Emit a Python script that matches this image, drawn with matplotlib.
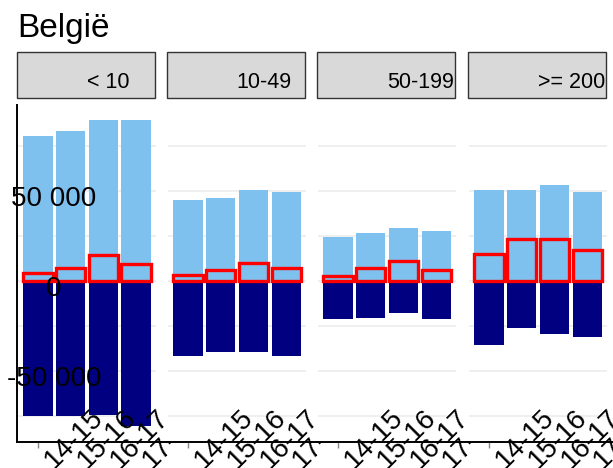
import numpy as np
import matplotlib
matplotlib.use("Agg")
import matplotlib.pyplot as plt
from matplotlib.lines import Line2D
from matplotlib.patches import Rectangle
from matplotlib.transforms import blended_transform_factory, ScaledTranslation

plt.rcParams['font.family'] = ['Liberation Sans', 'DejaVu Sans']

# data
years = ["14-15", "15-16", "16-17", "17-18"]
sizes = ["< 10", "10-49", "50-199", ">= 200"]
total_pos = [
    [80500, 83300, 89300, 89300],
    [45100, 46200, 50700, 49500],
    [24700, 26900, 29700, 28000],
    [50700, 50700, 53400, 49500],
]
red_pos = [
    [4400, 7200, 14600, 9400],
    [3500, 6300, 10300, 7200],
    [3100, 7200, 11000, 6100],
    [15300, 23600, 23600, 17300],
]
total_neg = [
    [-74900, -74900, -74000, -80500],
    [-41400, -39400, -39400, -41400],
    [-21000, -20100, -17800, -21000],
    [-35400, -26000, -29300, -30900],
]

W, H = 613, 468
fig = plt.figure(figsize=(W / 100, H / 100), dpi=100)

lo = min(min(r) for r in total_neg)
hi = max(max(r) for r in total_pos)
pad = 0.05 * (hi - lo)
ylim = (lo - pad, hi + pad)

left_px = [18, 168, 318, 469]
panel_w = 138
top_px, bot_px = 105, 441.7
pos = np.arange(1, len(years) + 1)

fig.text(17 / W, 1 - 37 / H, "België", fontsize=24, va='baseline', ha='left')

for i, size in enumerate(sizes):
    ax = fig.add_axes([left_px[i] / W, 1 - bot_px / H, panel_w / W, (bot_px - top_px) / H])
    ax.set_xlim(0.4, 4.6)
    ax.set_ylim(*ylim)
    for g in [-75000, -50000, -25000, 0, 25000, 50000, 75000]:
        ax.axhline(g, color='#EBEBEB', lw=1.1, zorder=0)
    ax.bar(pos, total_pos[i], width=0.9, color='#7EC0EE', zorder=2)
    ax.bar(pos, total_neg[i], width=0.9, color='#000080', zorder=2)
    ax.bar(pos, red_pos[i], width=0.9, facecolor='none', edgecolor='#FF0000',
           linewidth=2.4, zorder=3)

    for s in ['top', 'right', 'bottom']:
        ax.spines[s].set_visible(False)
    if i == 0:
        ax.spines['left'].set_color('black')
        ax.spines['left'].set_linewidth(1.4)
        ax.spines['left'].set_position(('outward', 1))
    else:
        ax.spines['left'].set_visible(False)
    ax.set_yticks([])
    ax.set_xticks([1])
    ax.set_xticklabels([""])
    ax.tick_params(axis='x', length=4, width=1, color='#888888')

    # x labels, offset like the original
    tr = blended_transform_factory(ax.transData, ax.transAxes) + \
        ScaledTranslation(0, 3 / 100, fig.dpi_scale_trans)
    for p, lab in zip(pos, years):
        ax.text(p + 1.1, 0, lab, transform=tr, rotation=45, rotation_mode='anchor',
                ha='center', va='center', fontsize=20, clip_on=False, zorder=5)

    if i == 0:
        ty = blended_transform_factory(ax.transAxes, ax.transData) + \
            ScaledTranslation(0, -15 / 100, fig.dpi_scale_trans)
        for v, lab in [(50000, "50 000"), (0, "0"), (-50000, "-50 000")]:
            ax.text((54 - 18) / panel_w, v, lab, transform=ty, ha='center',
                    va='baseline', fontsize=20, zorder=5, clip_on=False)

    # strip
    bx = left_px[i] - 0.7
    fig.patches.append(Rectangle((bx / W, 1 - 98.3 / H), panel_w / W, 46 / H,
                                 transform=fig.transFigure, facecolor='#D9D9D9',
                                 edgecolor='#333333', linewidth=1))
    fig.text((bx + 69.5) / W, 1 - 88 / H, size, fontsize=15.5, ha='left', va='baseline')

    # x axis line
    x_end = left_px[i + 1] - 1 if i < len(sizes) - 1 else W
    fig.add_artist(Line2D([(left_px[i] - 1) / W, x_end / W], [1 - bot_px / H] * 2,
                          transform=fig.transFigure, color='black', lw=1.4))

fig.savefig("out.png", dpi=100)
